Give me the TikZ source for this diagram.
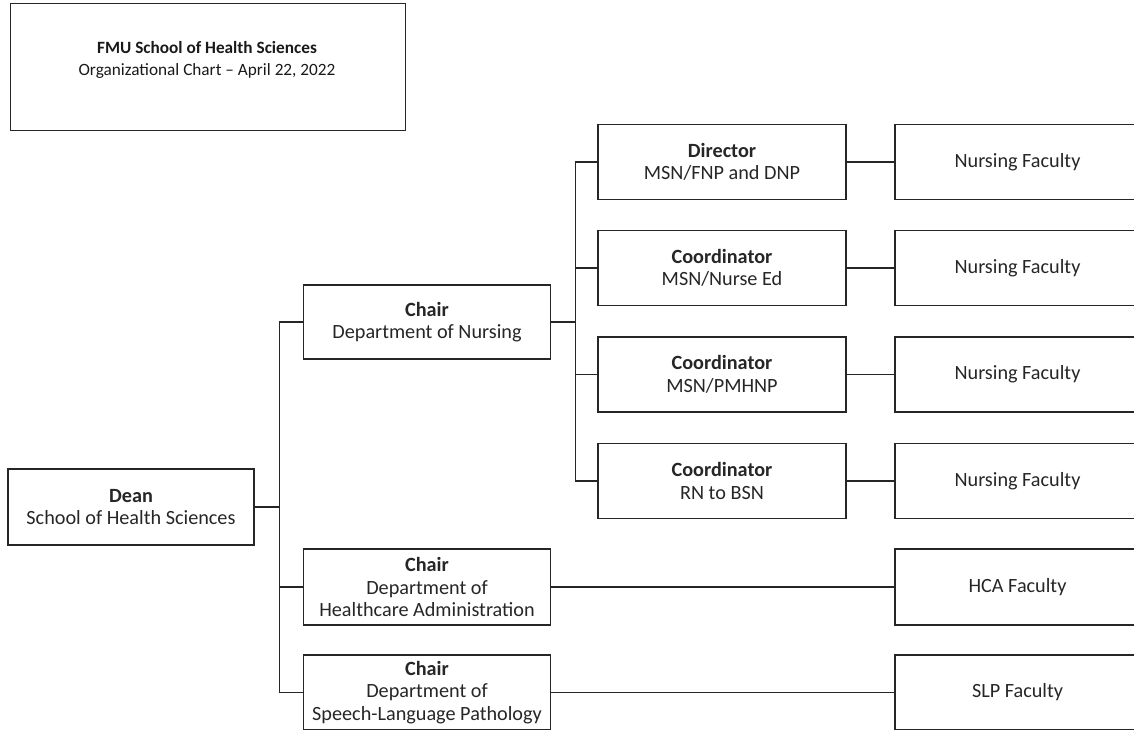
\documentclass[tikz,border=0pt]{standalone}
\usepackage{fontspec}
\setmainfont{Carlito}
\begin{document}
\begin{tikzpicture}[x=1bp,y=-1bp,
  box/.style={draw=black!85, line width=1.3bp, align=center, inner sep=0pt,
    minimum width=247bp, minimum height=75bp,
    font=\fontsize{20.3}{22.5}\selectfont, text=black!85},
  facbox/.style={box, minimum width=245bp},
  link/.style={draw=black!85, line width=1.3bp}]
\useasboundingbox (0,0) rectangle (1134,730);
\clip (0,0) rectangle (1134,730);
% title
\node[draw=black!85, line width=1.1bp, minimum width=395bp, minimum height=127bp,
  inner sep=0pt, anchor=north west] (titlebox) at (10,3) {};
\node[align=center, font=\fontsize{17.3}{22}\selectfont, text=black!90] (title) at (207,60)
  {\textbf{FMU School of Health Sciences}\\Organizational Chart – April 22, 2022};
% main boxes
\node[box, minimum width=246bp, minimum height=76bp] (dean) at (131,507) {\textbf{Dean}\\School of Health Sciences};
\node[box, minimum height=74bp] (chairN) at (427,322) {\textbf{Chair}\\Department of Nursing};
\node[box, minimum height=76bp] (chairH) at (427,587) {\textbf{Chair}\\Department of\\Healthcare Administration};
\node[box] (chairS) at (427,692.5) {\textbf{Chair}\\Department of\\Speech-Language Pathology};
% nursing programs
\node[box, minimum width=248bp] (dir) at (722,162) {\textbf{Director}\\MSN/FNP and DNP};
\node[box, minimum width=248bp] (ned) at (722,268) {\textbf{Coordinator}\\MSN/Nurse Ed};
\node[box, minimum width=248bp] (pm) at (722,374.5) {\textbf{Coordinator}\\MSN/PMHNP};
\node[box, minimum width=248bp] (rn) at (722,481) {\textbf{Coordinator}\\RN to BSN};
% faculty
\node[facbox] (f1) at (1017.5,162) {Nursing Faculty};
\node[facbox] (f2) at (1017.5,268) {Nursing Faculty};
\node[facbox] (f3) at (1017.5,374.5) {Nursing Faculty};
\node[facbox] (f4) at (1017.5,481) {Nursing Faculty};
\node[facbox, minimum height=76bp] (hca) at (1017.5,587) {HCA Faculty};
\node[facbox] (slp) at (1017.5,692.5) {SLP Faculty};
% connectors
\coordinate (tj) at ([xshift=25bp]dean.east);
\path[link] (dean.east) -- (tj);
\path[link] (tj) |- (chairN.west);
\path[link] (tj) |- (chairH.west);
\path[link] (tj) |- (chairS.west);
\coordinate (nj) at ([xshift=24bp]chairN.east);
\path[link] (chairN.east) -- (nj);
\path[link] (nj) |- (dir.west);
\path[link] (nj) |- (ned.west);
\path[link] (nj) |- (pm.west);
\path[link] (nj) |- (rn.west);
\path[link] (dir.east) -- (f1.west);
\path[link] (ned.east) -- (f2.west);
\path[link] (pm.east) -- (f3.west);
\path[link] (rn.east) -- (f4.west);
\path[link] (chairH.east) -- (hca.west);
\path[link] (chairS.east) -- (slp.west);
\end{tikzpicture}
\end{document}
